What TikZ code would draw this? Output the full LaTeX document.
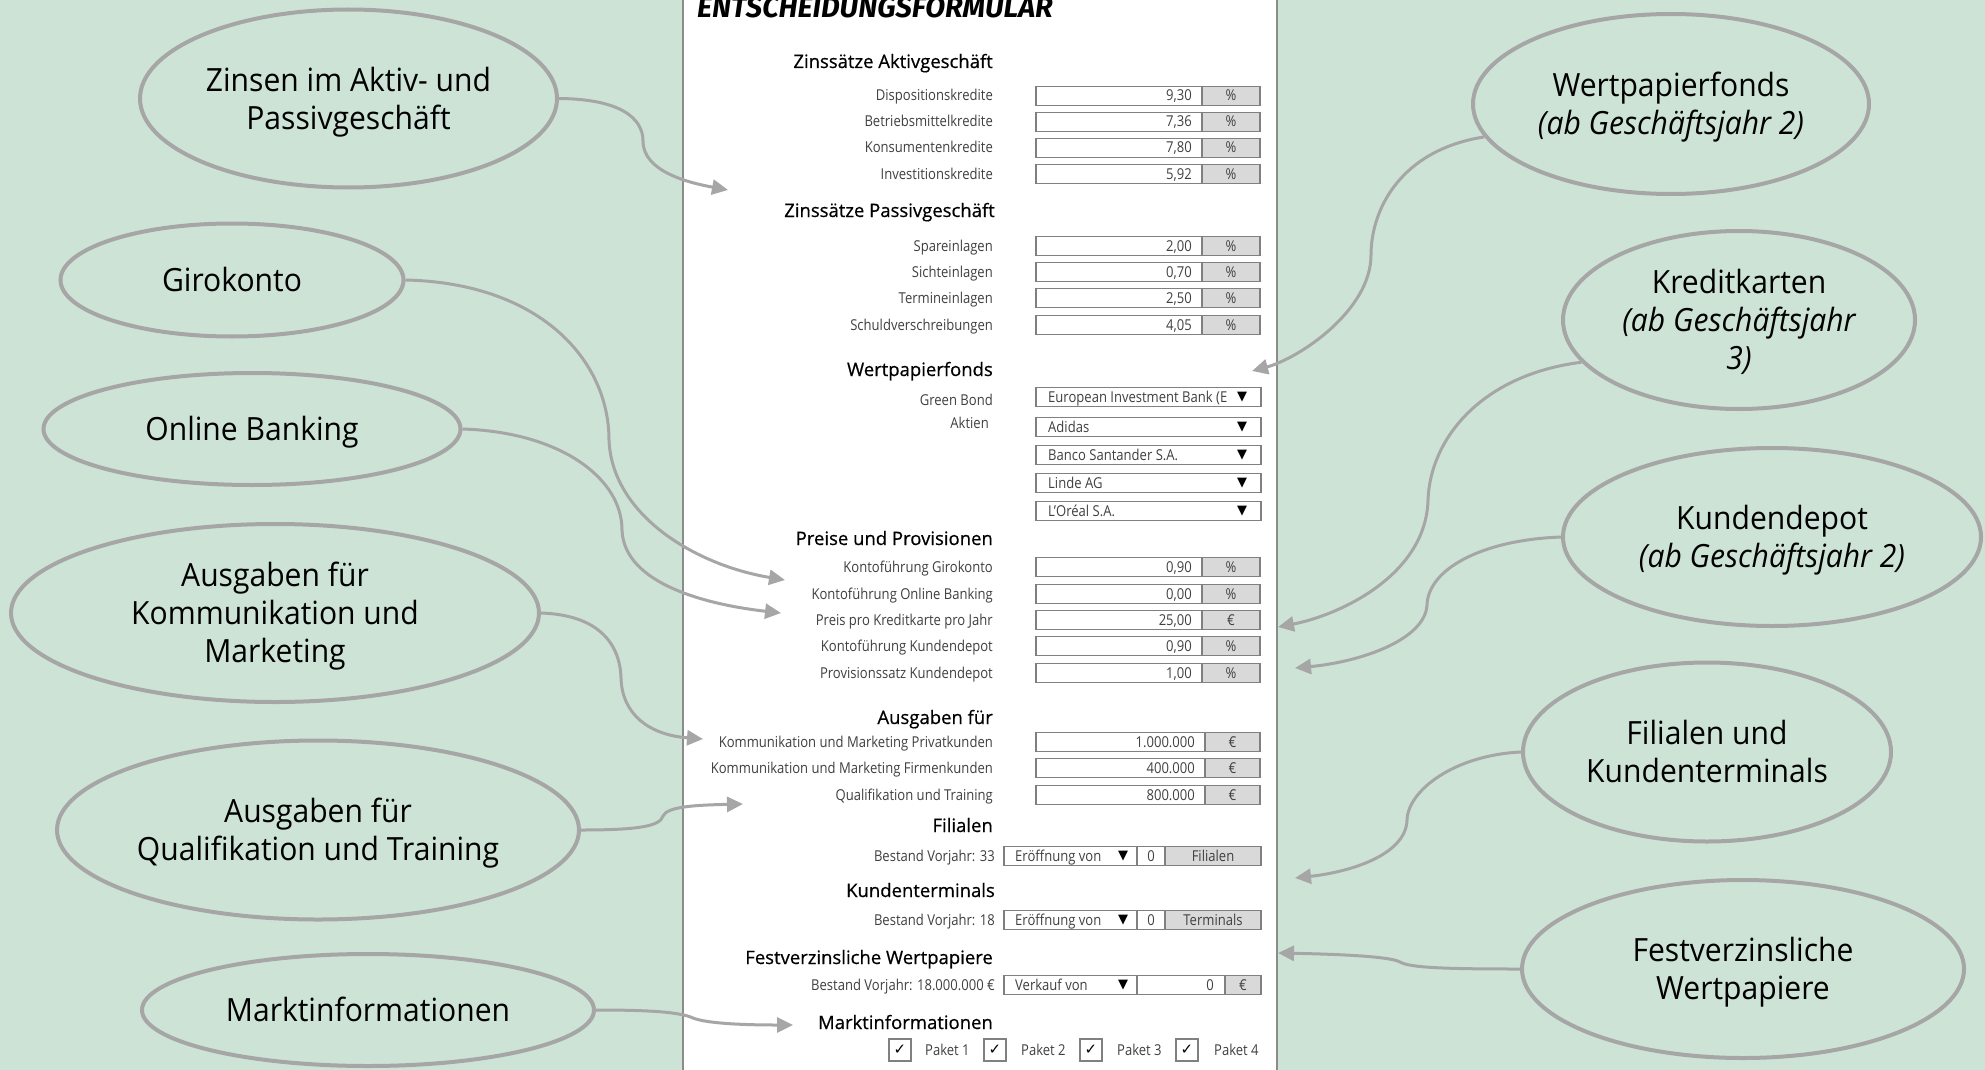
\documentclass[tikz,border=0pt]{standalone}
\usepackage{fontspec}
\setmainfont{Open Sans}
\newfontfamily\ellfont{Open Sans}[FakeStretch=0.94]
\newfontfamily\formfont{Open Sans}[FakeStretch=0.87]
\newfontfamily\headfont{Open Sans}[FakeBold=0.6]
\newfontfamily\titlefont{Fira Sans}
\newfontfamily\symfont{DejaVu Sans}
\usetikzlibrary{shapes.geometric,arrows.meta}
\definecolor{bg}{HTML}{CCE3D6}
\definecolor{ellgray}{HTML}{A6A6A6}
\definecolor{labgray}{HTML}{404040}
\definecolor{boxgray}{HTML}{808080}
\definecolor{unitgray}{HTML}{D9D9D9}
\definecolor{panelline}{HTML}{8C8C8C}

\newcommand\etop{\rule{0pt}{32pt}}
\newcommand\ebot{\rule[-9pt]{0pt}{9pt}}
\newcommand\frow[6]{% name, y, label, value, unit, split
  \node[lab] (#1-l) at (993,#2+5) {#3};
  \draw[fld, fill=white] (1036,#2-9.5) rectangle (1260,#2+9.5);
  \fill[unitgray] (#6,#2-9.5) rectangle (1260,#2+9.5);
  \draw[fld] (1036,#2-9.5) rectangle (1260,#2+9.5);
  \draw[fld] (#6,#2-9.5) -- (#6,#2+9.5);
  \node[val, anchor=base east] (#1-v) at (#6-10,#2+5) {#4};
  \node[val, anchor=base] (#1-u) at ({(#6+1260)/2},#2+5) {#5};
}
\newcommand\ddrow[3]{% name, y, text
  \draw[fld, fill=white] (1036,#2-9.5) rectangle (1261,#2+9.5);
  \node[val, anchor=base west] (#1-t) at (1048,#2+5) {#3};
  \node[tri] (#1-a) at (1242,#2) {▼};
}

\begin{document}
\begin{tikzpicture}[x=1pt,y=-1pt,
  bubble/.style={ellipse, draw=ellgray, line width=4pt, inner sep=0pt, align=center,
    font=\ellfont\fontsize{32}{38}\selectfont},
  link/.style={draw=ellgray, line width=3pt, -{Triangle[length=16pt,width=15pt]}},
  lab/.style={anchor=base east, inner sep=0pt, text=labgray, font=\formfont\fontsize{15}{18}\selectfont},
  val/.style={inner sep=0pt, text=labgray, font=\formfont\fontsize{15}{18}\selectfont},
  head/.style={anchor=base east, inner sep=0pt, font=\headfont\fontsize{18.5}{22}\selectfont},
  fld/.style={draw=boxgray, line width=1.1pt},
  tri/.style={inner sep=0pt, font=\symfont\fontsize{13}{13}\selectfont},
  chk/.style={draw=boxgray, line width=1.1pt, fill=white, minimum width=22pt, minimum height=22pt, inner sep=0pt,
    font=\symfont\bfseries\fontsize{15}{15}\selectfont},
]
\useasboundingbox (0,0) rectangle (1985,1070);
\fill[bg] (0,0) rectangle (1985,1070);

% form panel
\fill[white] (683,-2) rectangle (1277,1072);
\draw[panelline, line width=1.5pt] (683,-2) -- (683,1072);
\draw[panelline, line width=1.5pt] (1277,-2) -- (1277,1072);

\node[anchor=base west, inner sep=0pt] (title) at (697,18)
  {\titlefont\bfseries\itshape\fontsize{29}{29}\selectfont ENTSCHEIDUNGSFORMULAR};

% headings
\node[head] (h1) at (993,68) {Zinssätze Aktivgeschäft};
\node[head] (h2) at (995,217) {Zinssätze Passivgeschäft};
\node[head] (h3) at (993,376) {Wertpapierfonds};
\node[head] (h4) at (993,545) {Preise und Provisionen};
\node[head] (h5) at (993,724) {Ausgaben für};
\node[head] (h6) at (993,832) {Filialen};
\node[head] (h7) at (995,897) {Kundenterminals};
\node[head] (h8) at (993,964) {Festverzinsliche Wertpapiere};
\node[head] (h9) at (993,1029) {Marktinformationen};

% numeric rows
\frow{r1}{96}{Dispositionskredite}{9,30}{\%}{1202}
\frow{r2}{122}{Betriebsmittelkredite}{7,36}{\%}{1202}
\frow{r3}{148}{Konsumentenkredite}{7,80}{\%}{1202}
\frow{r4}{174}{Investitionskredite}{5,92}{\%}{1202}
\frow{r5}{246}{Spareinlagen}{2,00}{\%}{1202}
\frow{r6}{272}{Sichteinlagen}{0,70}{\%}{1202}
\frow{r7}{298}{Termineinlagen}{2,50}{\%}{1202}
\frow{r8}{325}{Schuldverschreibungen}{4,05}{\%}{1202}
\frow{r9}{567}{Kontoführung Girokonto}{0,90}{\%}{1202}
\frow{r10}{594}{Kontoführung Online Banking}{0,00}{\%}{1202}
\frow{r11}{620}{Preis pro Kreditkarte pro Jahr}{25,00}{€}{1202}
\frow{r12}{646}{Kontoführung Kundendepot}{0,90}{\%}{1202}
\frow{r13}{673}{Provisionssatz Kundendepot}{1,00}{\%}{1202}
\frow{r14}{742}{Kommunikation und Marketing Privatkunden}{1.000.000}{€}{1205}
\frow{r15}{768}{Kommunikation und Marketing Firmenkunden}{400.000}{€}{1205}
\frow{r16}{795}{Qualifikation und Training}{800.000}{€}{1205}

% dropdowns
\node[lab] (gb) at (993,405) {Green Bond};
\node[lab] (ak) at (989,428) {Aktien};
\ddrow{d1}{397}{European Investment Bank (E}
\ddrow{d2}{427}{Adidas}
\ddrow{d3}{455}{Banco Santander S.A.}
\ddrow{d4}{483}{Linde AG}
\ddrow{d5}{511}{L’Oréal S.A.}

% Filialen
\node[lab] (f-l) at (995,861) {Bestand Vorjahr: 33};
\draw[fld, fill=white] (1004,846.5) rectangle (1137,865.5);
\fill[unitgray] (1165,846.5) rectangle (1261,865.5);
\draw[fld] (1004,846.5) rectangle (1261,865.5);
\draw[fld] (1137,846.5) -- (1137,865.5);
\draw[fld] (1165,846.5) -- (1165,865.5);
\node[val, anchor=base west] (f-t) at (1015,861) {Eröffnung von};
\node[tri] (f-a) at (1123,856) {▼};
\node[val, anchor=base] (f-n) at (1151,861) {0};
\node[val, anchor=base] (f-u) at (1213,861) {Filialen};

% Kundenterminals
\node[lab] (k-l) at (995,925) {Bestand Vorjahr: 18};
\draw[fld, fill=white] (1004,910.5) rectangle (1137,929.5);
\fill[unitgray] (1165,910.5) rectangle (1261,929.5);
\draw[fld] (1004,910.5) rectangle (1261,929.5);
\draw[fld] (1137,910.5) -- (1137,929.5);
\draw[fld] (1165,910.5) -- (1165,929.5);
\node[val, anchor=base west] (k-t) at (1015,925) {Eröffnung von};
\node[tri] (k-a) at (1123,920) {▼};
\node[val, anchor=base] (k-n) at (1151,925) {0};
\node[val, anchor=base] (k-u) at (1213,925) {Terminals};

% Festverzinsliche
\node[lab] (w-l) at (995,990) {Bestand Vorjahr: 18.000.000 €};
\draw[fld, fill=white] (1004,975.5) rectangle (1137,994.5);
\fill[unitgray] (1225,975.5) rectangle (1261,994.5);
\draw[fld] (1004,975.5) rectangle (1261,994.5);
\draw[fld] (1137,975.5) -- (1137,994.5);
\draw[fld] (1225,975.5) -- (1225,994.5);
\node[val, anchor=base west] (w-t) at (1015,990) {Verkauf von};
\node[tri] (w-a) at (1123,985) {▼};
\node[val, anchor=base east] (w-n) at (1214,990) {0};
\node[val, anchor=base] (w-u) at (1243,990) {€};

% Marktinformationen checkboxes
\node[chk] (c1) at (900,1050) {✓};
\node[chk] (c2) at (995,1050) {✓};
\node[chk] (c3) at (1091,1050) {✓};
\node[chk] (c4) at (1187,1050) {✓};
\node[val, anchor=base west] (p1) at (925,1055) {Paket 1};
\node[val, anchor=base west] (p2) at (1021,1055) {Paket 2};
\node[val, anchor=base west] (p3) at (1117,1055) {Paket 3};
\node[val, anchor=base west] (p4) at (1214,1055) {Paket 4};

% bubbles left
\node[bubble, minimum width=417pt, minimum height=178pt] (zins) at (348.5,98.5) {\etop Zinsen im Aktiv- und\\Passivgeschäft\ebot};
\node[bubble, minimum width=343pt, minimum height=113pt] (giro) at (232,280) {\etop Girokonto\ebot};
\node[bubble, minimum width=417pt, minimum height=112pt] (online) at (252,429) {\etop Online Banking\ebot};
\node[bubble, minimum width=528pt, minimum height=178pt] (komm) at (275,613) {\etop Ausgaben für\\Kommunikation und\\Marketing\ebot};
\node[bubble, minimum width=522pt, minimum height=179pt] (quali) at (318,830) {\etop Ausgaben für\\Qualifikation und Training\ebot};
\node[bubble, minimum width=452pt, minimum height=112pt] (markt) at (368,1010) {\etop Marktinformationen\ebot};

% bubbles right
\node[bubble, minimum width=396pt, minimum height=180pt] (wpf) at (1671,104) {\etop Wertpapierfonds\\\itshape(ab Geschäftsjahr 2)\ebot};
\node[bubble, minimum width=352pt, minimum height=178pt] (kk) at (1739,320) {\etop Kreditkarten\\\itshape(ab Geschäftsjahr\\\itshape 3)\ebot};
\node[bubble, minimum width=418pt, minimum height=178pt] (kd) at (1772,537) {\etop Kundendepot\\\itshape(ab Geschäftsjahr 2)\ebot};
\node[bubble, minimum width=368pt, minimum height=179pt] (fil) at (1707,752) {\etop Filialen und\\Kundenterminals\ebot};
\node[bubble, minimum width=442pt, minimum height=178pt] (fvw) at (1743,969) {\etop Festverzinsliche\\Wertpapiere\ebot};

% arrow tips
\coordinate (t1) at (728,190);
\coordinate (t2) at (785,580);
\coordinate (t3) at (781,613);
\coordinate (t4) at (703,739);
\coordinate (t5) at (743,804);
\coordinate (t6) at (793,1025);
\coordinate (t7) at (1252,371);
\coordinate (t8) at (1278,627);
\coordinate (t9) at (1295,668);
\coordinate (t10) at (1295,878);
\coordinate (t11) at (1278,953);

% connectors
\draw[link] (zins.east) .. controls (620,99) and (643,118) .. (643,141) .. controls (643,172) and (690,183) .. (t1);
\draw[link] (giro.east) .. controls (540,283) and (609,360) .. (609,440) .. controls (612,515) and (695,565) .. (t2);
\draw[link] (online.east) .. controls (560,432) and (622,478) .. (622,530) .. controls (624,585) and (710,605) .. (t3);
\draw[link] (komm.east) .. controls (600,615) and (620,645) .. (621,678) .. controls (622,715) and (650,735) .. (t4);
\draw[link] (quali.east) .. controls (640,830) and (660,826) .. (663,816) .. controls (667,806) and (700,805) .. (t5);
\draw[link] (markt.east) .. controls (650,1010) and (680,1012) .. (693,1018) .. controls (708,1024) and (750,1025) .. (t6);
\draw[link] (wpf.190) .. controls (1400,150) and (1371,210) .. (1371,255) .. controls (1371,310) and (1300,358) .. (t7);
\draw[link] (kk.195) .. controls (1480,375) and (1430,440) .. (1428,500) .. controls (1426,575) and (1340,615) .. (t8);
\draw[link] (kd.west) .. controls (1480,540) and (1428,570) .. (1427,605) .. controls (1425,640) and (1360,662) .. (t9);
\draw[link] (fil.west) .. controls (1455,755) and (1408,790) .. (1407,820) .. controls (1406,855) and (1350,872) .. (t10);
\draw[link] (fvw.west) .. controls (1450,969) and (1410,968) .. (1400,962) .. controls (1390,956) and (1330,954) .. (t11);
\end{tikzpicture}
\end{document}
